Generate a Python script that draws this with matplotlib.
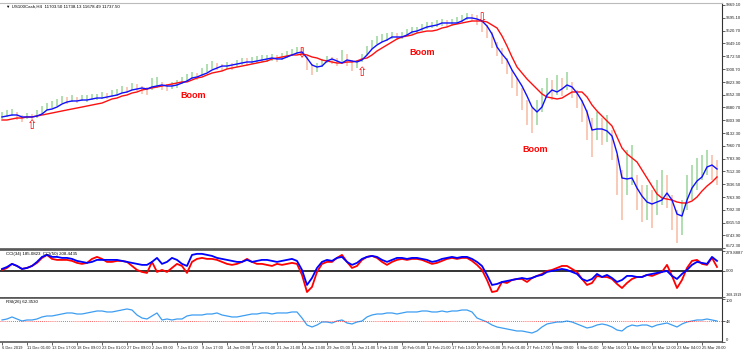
import numpy as np
import matplotlib
matplotlib.use("Agg")
import matplotlib.pyplot as plt

plt.rcParams["font.family"] = ["Liberation Sans", "DejaVu Sans"]

# ---------------------------------------------------------------------------
# Data (H4 bars, US100Cash) - one entry per plotted bar
# ---------------------------------------------------------------------------
close = [8363, 8404, 8417, 8363, 8323, 8363, 8350, 8390, 8445, 8499,
         8512, 8553, 8594, 8580, 8607, 8580, 8607, 8607, 8621, 8621,
         8648, 8635, 8662, 8689, 8730, 8716, 8770, 8743, 8716, 8689,
         8784, 8797, 8770, 8743, 8784, 8797, 8852, 8879, 8919, 8906,
         8960, 9014, 9055, 9042, 9028, 9055, 9042, 9082, 9109, 9096,
         9123, 9137, 9150, 9150, 9164, 9150, 9177, 9204, 9232, 9259,
         9232, 9069, 8987, 9014, 9082, 9137, 9123, 9096, 9191, 9123,
         9042, 9069, 9150, 9259, 9340, 9394, 9421, 9435, 9462, 9449,
         9462, 9503, 9530, 9530, 9571, 9598, 9598, 9625, 9638, 9611,
         9638, 9666, 9693, 9720, 9706, 9666, 9584, 9503, 9394, 9259,
         9150, 9042, 8852, 8743, 8580, 8377, 8282, 8472, 8648, 8743,
         8689, 8797, 8743, 8852, 8689, 8580, 8417, 8241, 8105, 8241,
         8173, 8200, 7970, 7563, 7359, 7631, 7698, 7291, 7156, 7224,
         7088, 7291, 7427, 7359, 7020, 6844, 7020, 7359, 7522, 7603,
         7698, 7766, 7658, 7603]
high = [8417, 8445, 8458, 8417, 8377, 8404, 8390, 8445, 8499, 8540,
        8567, 8594, 8635, 8621, 8648, 8621, 8648, 8648, 8662, 8662,
        8689, 8675, 8716, 8730, 8770, 8757, 8811, 8797, 8770, 8757,
        8879, 8892, 8825, 8797, 8825, 8852, 8892, 8933, 8960, 8947,
        9014, 9069, 9109, 9082, 9069, 9096, 9082, 9123, 9150, 9150,
        9164, 9177, 9191, 9191, 9204, 9191, 9218, 9245, 9272, 9299,
        9286, 9177, 9069, 9082, 9137, 9177, 9164, 9150, 9259, 9204,
        9123, 9123, 9204, 9313, 9394, 9449, 9476, 9489, 9503, 9489,
        9503, 9544, 9571, 9571, 9611, 9638, 9638, 9666, 9679, 9666,
        9679, 9706, 9733, 9761, 9747, 9733, 9666, 9598, 9503, 9367,
        9286, 9150, 8987, 8879, 8743, 8580, 8472, 8580, 8743, 8879,
        8852, 8919, 8879, 8960, 8825, 8716, 8580, 8445, 8336, 8417,
        8336, 8377, 8173, 7834, 7631, 7902, 7970, 7563, 7427, 7427,
        7359, 7495, 7631, 7563, 7291, 7088, 7224, 7563, 7698, 7793,
        7834, 7902, 7834, 7766]
low = [8323, 8350, 8363, 8309, 8282, 8323, 8309, 8336, 8390, 8445,
       8472, 8499, 8540, 8526, 8553, 8540, 8567, 8553, 8580, 8580,
       8594, 8594, 8621, 8635, 8675, 8675, 8716, 8702, 8662, 8648,
       8716, 8743, 8716, 8702, 8730, 8743, 8797, 8825, 8865, 8852,
       8906, 8960, 9001, 8987, 8974, 9001, 8987, 9028, 9055, 9042,
       9069, 9082, 9096, 9096, 9109, 9096, 9123, 9150, 9177, 9204,
       9150, 8987, 8919, 8960, 9028, 9082, 9069, 9042, 9096, 9042,
       8974, 9014, 9096, 9191, 9272, 9340, 9367, 9381, 9408, 9394,
       9408, 9449, 9476, 9489, 9516, 9544, 9557, 9571, 9584, 9571,
       9584, 9611, 9638, 9666, 9652, 9598, 9503, 9421, 9286, 9177,
       9069, 8933, 8743, 8635, 8445, 8241, 8133, 8241, 8417, 8607,
       8580, 8648, 8635, 8716, 8607, 8472, 8282, 8037, 7807, 8037,
       7970, 8010, 7766, 7291, 6952, 7291, 7427, 7088, 6925, 6952,
       6844, 7020, 7156, 7115, 6817, 6640, 6749, 7088, 7224, 7359,
       7495, 7563, 7495, 7427]

ma_fast = [8350, 8363, 8377, 8377, 8350, 8350, 8350, 8363, 8390, 8445,
           8458, 8485, 8526, 8553, 8567, 8567, 8580, 8580, 8594, 8607,
           8607, 8621, 8634, 8648, 8675, 8689, 8716, 8730, 8743, 8730,
           8757, 8770, 8784, 8770, 8770, 8784, 8811, 8838, 8879, 8892,
           8920, 8946, 8987, 9014, 9041, 9041, 9055, 9069, 9082, 9096,
           9096, 9109, 9123, 9137, 9150, 9137, 9137, 9164, 9191, 9218,
           9232, 9150, 9055, 9028, 9041, 9109, 9137, 9109, 9082, 9123,
           9109, 9096, 9123, 9191, 9272, 9327, 9367, 9395, 9435, 9435,
           9435, 9462, 9503, 9516, 9544, 9571, 9584, 9598, 9625, 9625,
           9625, 9625, 9652, 9693, 9693, 9679, 9652, 9584, 9476, 9300,
           9205, 9123, 8987, 8879, 8770, 8634, 8485, 8418, 8485, 8648,
           8716, 8689, 8730, 8784, 8757, 8675, 8567, 8418, 8173, 8187,
           8187, 8160, 8092, 7861, 7522, 7509, 7522, 7386, 7277, 7196,
           7169, 7196, 7223, 7318, 7223, 7033, 7006, 7223, 7386, 7481,
           7536, 7671, 7698, 7644]
ma_slow = [8309, 8309, 8323, 8336, 8336, 8350, 8350, 8363, 8377, 8390,
           8404, 8418, 8431, 8445, 8458, 8472, 8485, 8499, 8513, 8526,
           8539, 8567, 8594, 8607, 8634, 8648, 8675, 8689, 8716, 8730,
           8743, 8757, 8770, 8784, 8797, 8811, 8825, 8825, 8852, 8879,
           8892, 8920, 8946, 8960, 8974, 9001, 9014, 9028, 9041, 9055,
           9069, 9082, 9096, 9109, 9137, 9150, 9164, 9177, 9191, 9191,
           9205, 9191, 9164, 9150, 9123, 9109, 9096, 9082, 9082, 9096,
           9096, 9109, 9137, 9150, 9191, 9245, 9286, 9327, 9367, 9408,
           9435, 9449, 9462, 9489, 9503, 9516, 9516, 9530, 9557, 9571,
           9598, 9612, 9625, 9639, 9652, 9652, 9652, 9639, 9598, 9557,
           9449, 9313, 9164, 9028, 8946, 8865, 8797, 8730, 8662, 8621,
           8607, 8594, 8607, 8648, 8689, 8689, 8689, 8621, 8513, 8431,
           8363, 8295, 8228, 8078, 7929, 7848, 7793, 7739, 7630, 7522,
           7413, 7305, 7250, 7237, 7223, 7196, 7183, 7183, 7210, 7264,
           7345, 7413, 7468, 7536]

cci_slow = [28, 56, 99, 70, 28, 42, 70, 127, 197, 225,
            197, 197, 183, 183, 169, 141, 127, 113, 127, 155,
            155, 155, 155, 155, 141, 127, 113, 99, 85, 85,
            127, 183, 99, 127, 183, 155, 99, 70, 225, 240,
            240, 225, 211, 183, 169, 155, 141, 127, 127, 155,
            127, 141, 155, 155, 141, 127, 141, 155, 169, 141,
            14, -197, -99, 42, 127, 155, 141, 183, 197, 127,
            85, 113, 169, 197, 211, 197, 155, 127, 155, 183,
            183, 169, 183, 183, 169, 155, 127, 141, 169, 183,
            197, 183, 197, 197, 169, 127, 70, -56, -197, -183,
            -155, -141, -127, -113, -99, -113, -99, -70, -56, -14,
            0, 14, 28, 14, -14, -42, -113, -141, -113, -42,
            -85, -56, -99, -155, -127, -70, -70, -85, -85, -56,
            -42, -28, -14, 0, -70, -113, -42, 14, 85, 127,
            113, 99, 197, 141]
cci_fast = [14, 42, 99, 70, 28, 42, 70, 113, 183, 225,
            169, 155, 155, 155, 141, 113, 99, 113, 169, 197,
            169, 127, 127, 141, 141, 127, 70, 14, -14, -28,
            127, -14, 14, -14, 42, 99, 70, -28, 127, 169,
            183, 169, 169, 155, 127, 99, 85, 99, 127, 169,
            127, 99, 99, 85, 70, 99, 85, 99, 113, 99,
            -56, -296, -225, -14, 99, 127, 127, 183, 225, 127,
            42, 70, 155, 197, 211, 183, 127, 85, 127, 155,
            169, 155, 169, 169, 155, 127, 99, 113, 141, 169,
            183, 169, 183, 183, 141, 85, 14, -127, -296, -282,
            -155, -169, -127, -113, -113, -155, -99, -70, -42, 0,
            14, 42, 70, 70, 28, -14, -113, -197, -169, -70,
            -85, -85, -113, -183, -240, -169, -113, -85, -85, -56,
            -70, -42, -14, 85, -70, -240, -127, 42, 141, 155,
            99, 85, 183, 56]

rsi = [51.2, 53.5, 58.2, 53.5, 48.8, 51.2, 51.2, 53.5, 58.2, 60.5,
       60.5, 62.8, 65.1, 67.5, 67.5, 65.1, 65.1, 67.5, 69.8, 72.1,
       72.1, 69.8, 69.8, 72.1, 74.4, 76.8, 74.4, 62.8, 55.8, 53.5,
       60.5, 67.5, 51.2, 53.5, 51.2, 53.5, 53.5, 60.5, 62.8, 62.8,
       62.8, 65.1, 65.1, 67.5, 62.8, 60.5, 58.2, 58.2, 60.5, 62.8,
       65.1, 65.1, 67.5, 67.5, 65.1, 67.5, 67.5, 67.5, 69.8, 69.8,
       55.8, 39.5, 34.9, 39.5, 46.5, 46.5, 44.2, 48.8, 51.2, 44.2,
       41.9, 46.5, 48.8, 58.2, 62.8, 65.1, 65.1, 67.5, 67.5, 65.1,
       67.5, 69.8, 69.8, 69.8, 72.1, 72.1, 69.8, 69.8, 72.1, 69.8,
       72.1, 72.1, 74.4, 74.4, 69.8, 55.8, 51.2, 46.5, 39.5, 34.9,
       32.6, 30.2, 27.9, 25.6, 25.6, 23.3, 20.9, 25.6, 34.9, 41.9,
       44.2, 46.5, 46.5, 48.8, 46.5, 41.9, 37.2, 32.6, 34.9, 39.5,
       41.9, 39.5, 34.9, 27.9, 25.6, 34.9, 39.5, 37.2, 39.5, 39.5,
       34.9, 39.5, 41.9, 44.2, 39.5, 34.9, 41.9, 46.5, 48.8, 51.2,
       51.2, 53.5, 51.2, 48.8]

date_labels = ["6 Dec 2019", "11 Dec 01:00", "13 Dec 17:00", "18 Dec 09:00",
               "23 Dec 01:00", "27 Dec 09:00", "2 Jan 09:00", "7 Jan 01:00",
               "9 Jan 17:00", "14 Jan 09:00", "17 Jan 01:00", "21 Jan 21:00",
               "24 Jan 13:00", "29 Jan 05:00", "31 Jan 21:00", "5 Feb 13:00",
               "10 Feb 05:00", "12 Feb 21:00", "17 Feb 13:00", "20 Feb 05:00",
               "25 Feb 01:00", "27 Feb 17:00", "3 Mar 09:00", "6 Mar 01:00",
               "10 Mar 16:00", "13 Mar 08:00", "18 Mar 12:00", "23 Mar 04:00",
               "25 Mar 20:00"]
date_label_bars = list(range(0, 145, 5))

price_ticks = [9869.10, 9695.10, 9520.70, 9349.10, 9172.50, 9000.70, 8823.90,
               8652.30, 8480.70, 8303.90, 8132.30, 7960.70, 7783.90, 7612.30,
               7436.50, 7263.90, 7092.30, 6915.50, 6743.90, 6572.30]
cci_ticks = [279.8887, 0.0, -368.1919]
cci_tick_text = ["279.8887", "0.00", "-368.1919"]
rsi_ticks = [100, 48, 0]
rsi_level = 48

# signal arrows and "Boom" notes (bar index, price)
buy_bars, buy_prices = [6, 72], [8228, 8960]
sell_bars, sell_prices = [60, 96], [9204, 9679]
boom_bars, boom_prices = [38.2, 84, 106.6], [8648, 9218, 7915]

# ---------------------------------------------------------------------------
# Figure
# ---------------------------------------------------------------------------
W, H = 743, 353
fig = plt.figure(figsize=(W / 100, H / 100), dpi=100)
right = 722 / W


def add_panel(top_px, bottom_px):
    return fig.add_axes([0, 1 - bottom_px / H, right, (bottom_px - top_px) / H])


ax = add_panel(3, 249)
ax_cci = add_panel(250, 298)
ax_rsi = add_panel(298, 342)

x = np.arange(len(close))
opens = np.r_[close[0], close[:-1]]
up = np.asarray(close) >= opens
bar_colors = np.where(up, "#9ad69a", "#f8bba3")

ax.vlines(x, low, high, colors=bar_colors, lw=1.3, alpha=0.85, zorder=1)
ax.plot(x, ma_slow, color="#ff1010", lw=1.0, zorder=2)
ax.plot(x, ma_fast, color="#1010ff", lw=1.0, zorder=3)

for b, p in zip(buy_bars, buy_prices):
    ax.text(b, p, "\u21e7", color="red", fontsize=9, ha="center", va="center",
            family="DejaVu Sans", zorder=4)
for b, p in zip(sell_bars, sell_prices):
    ax.text(b, p, "\u21e9", color="red", fontsize=9, ha="center", va="center",
            family="DejaVu Sans", zorder=4)
for b, p in zip(boom_bars, boom_prices):
    ax.text(b, p, "Boom", color="red", fontsize=6.5, fontweight="bold",
            ha="center", va="center", zorder=4)

ax.text(0.008, 0.993, "\u25bc US100Cash,H4  11703.50 11738.13 11678.49 11737.50",
        transform=ax.transAxes, fontsize=3.2, va="top", ha="left")

ax.set_ylim(6558.7, 9896.2)
ax.set_yticks(price_ticks)
ax.set_yticklabels([f"{v:.2f}" for v in price_ticks])

# CCI panel
ax_cci.plot(x, cci_fast, color="#ff0000", lw=1.3, zorder=2)
ax_cci.plot(x, cci_slow, color="#0000ff", lw=1.3, zorder=3)
ax_cci.axhline(0, color="#333333", lw=1.4, zorder=1)
ax_cci.set_ylim(-380, 294)
ax_cci.set_yticks(cci_ticks)
ax_cci.set_yticklabels(cci_tick_text)
ax_cci.text(0.008, 0.96, "CCI(34) 185.0823  CCI(50) 208.4435",
            transform=ax_cci.transAxes, fontsize=3.2, va="top", ha="left")

# RSI panel
ax_rsi.plot(x, rsi, color="#3d9df2", lw=0.9)
ax_rsi.axhline(rsi_level, color="#ff3030", lw=0.6, ls=(0, (1, 1.5)))
ax_rsi.set_ylim(0, 102.3)
ax_rsi.set_yticks(rsi_ticks)
ax_rsi.set_yticklabels([str(v) for v in rsi_ticks])
ax_rsi.text(0.008, 0.96, "RSI(26) 62.3530",
            transform=ax_rsi.transAxes, fontsize=3.2, va="top", ha="left")

for a in (ax, ax_cci, ax_rsi):
    a.set_xlim(-0.4, 144)
    a.yaxis.tick_right()
    a.tick_params(axis="y", labelsize=3.1, length=2, width=0.5, pad=0.8,
                  colors="#222222")
    a.spines["left"].set_visible(False)
    a.spines["right"].set_color("#333333")
    a.spines["right"].set_linewidth(0.8)
    a.spines["top"].set_color("#555555")
    a.spines["bottom"].set_color("#555555")
    a.spines["top"].set_linewidth(1.2)
    a.spines["bottom"].set_linewidth(1.2)
    a.set_facecolor("white")

for a in (ax, ax_cci):
    a.set_xticks([])

ax.spines["top"].set_color("#bbbbbb")
ax.spines["top"].set_linewidth(0.8)

# keep the edge labels of adjacent panels from colliding
ax.get_yticklabels()[-1].set_va("bottom")
cci_labels = ax_cci.get_yticklabels()
cci_labels[0].set_va("top")
cci_labels[-1].set_va("bottom")
cci_labels[-1].set_fontsize(2.6)
ax_rsi.get_yticklabels()[0].set_va("top")
ax_rsi.get_yticklabels()[-1].set_va("bottom")

ax_rsi.set_xticks(date_label_bars)
ax_rsi.set_xticklabels(date_labels, ha="left")
ax_rsi.tick_params(axis="x", labelsize=2.9, length=2, width=0.5, pad=1,
                   colors="#222222")

fig.savefig("out.png", dpi=100, facecolor="white")
